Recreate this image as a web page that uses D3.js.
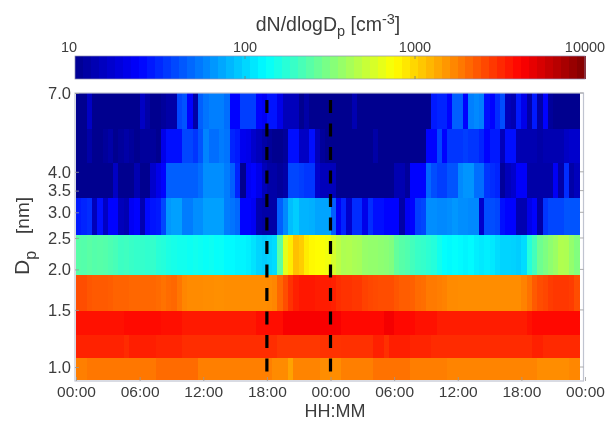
<!DOCTYPE html>
<html>
<head>
<meta charset="utf-8">
<script src="https://cdn.jsdelivr.net/npm/d3@7"></script>
<style>
html,body{margin:0;padding:0;background:#fff;overflow:hidden}
svg{display:block;filter:blur(0.75px)}
text{font-family:"Liberation Sans",Arial,sans-serif;fill:#3c3c3c}
</style>
</head>
<body>
<script>
const tickHours = [0,6,12,18,24,30,36,42,48];
const tickHourLabels = ["00:00","06:00","12:00","18:00","00:00","06:00","12:00","18:00","00:00"];
const dpTicks = [1,1.5,2,2.5,3,3.5,4,7];
const colorTicks = [10,100,1000,10000];
const eventHours = [18,24];
const binHours = 0.5;
const dpEdges = [7,5.42,4.26,3.32,2.56,1.92,1.49,1.255,1.066,0.912];

const row1 = [10,10,15,10,10,10,10,10,10,10,10,10,
15,12,10,10,11,12,12,38,42,24,12,45,
52,56,56,56,50,24,24,36,36,36,24,22,
27,27,20,14,14,14,10,12,10,10,10,10,
10,10,10,10,13,10,10,10,10,10,10,10,
10,10,10,10,10,10,10,28,30,30,24,45,
45,24,56,60,56,26,24,32,40,14,13,28,
20,12,28,12,24,11,10,10,10,10,10];
const row2 = [10,10,12,10,10,11,12,10,11,12,11,10,
11,11,11,10,20,26,26,26,38,38,34,42,
58,50,50,55,52,30,28,21,20,16,14,12,
11,10,10,11,26,26,15,15,26,14,11,10,
10,10,10,10,10,10,10,10,12,10,10,10,
10,10,10,10,10,10,24,24,38,24,34,34,
34,36,34,34,30,24,28,28,14,26,26,13,
13,13,13,12,13,13,13,13,15,16,16];
const row3 = [10,10,10,10,10,10,10,15,10,10,10,13,
10,10,16,20,24,45,45,45,45,45,45,50,
62,62,62,62,55,45,30,10,22,24,20,14,
12,12,11,12,38,38,36,34,34,16,14,14,
14,10,10,10,10,10,10,10,10,10,10,10,
13,13,11,24,24,24,48,40,36,36,42,42,
60,65,65,50,50,34,32,30,11,14,16,23,
23,12,12,12,12,12,22,12,32,12,14];
const row4 = [28,30,32,14,26,15,24,24,14,13,22,24,
13,25,27,28,38,66,70,70,55,55,62,62,
70,70,70,70,55,52,48,24,24,22,13,12,
12,12,45,60,85,95,80,80,78,72,72,72,
45,22,30,16,32,32,20,32,26,26,24,24,
24,12,22,24,36,38,62,62,60,60,62,66,
62,62,60,60,16,40,40,38,26,24,24,13,
13,20,24,12,34,38,38,38,42,42,42];
const row5 = [240,235,245,235,240,235,225,215,200,205,195,190,
190,185,190,175,170,160,155,150,150,145,150,145,
140,145,138,140,130,130,125,125,120,110,100,95,
100,105,250,620,850,1150,1050,850,780,760,720,680,
560,480,430,440,420,410,370,360,360,350,340,320,
260,240,230,210,195,190,180,170,150,135,130,135,
130,125,130,120,115,120,115,105,100,100,98,95,
105,170,210,280,310,350,380,440,430,360,320];
const row6 = [2500,2500,2350,2300,2300,2300,2250,2150,2150,2150,2100,2100,
2100,2100,2100,2050,1950,2050,2100,1900,1700,1650,1650,1650,
1620,1620,1600,1600,1620,1620,1620,1620,1620,1620,1620,1620,
1650,1700,2100,2500,3000,3400,3600,3600,3600,3500,3500,3500,
3400,3100,3000,3000,2900,2900,2700,2600,2550,2500,2500,2500,
2350,2250,2250,2200,2050,2000,1850,1850,1800,1750,1650,1650,
1620,1620,1620,1620,1620,1620,1620,1620,1620,1620,1620,1620,
1750,1950,2300,2500,2600,2800,2900,2900,2900,2800,2500];
const row7 = [3750,3750,3750,3750,3750,3750,3750,3750,3750,3950,3950,3950,
3950,3950,3950,3950,3800,3800,3800,3800,3550,3550,3550,3550,
3550,3550,3550,3550,3550,3550,3550,3550,3550,3550,3850,3850,
3850,3850,3850,4400,4400,4400,4400,4400,4400,4400,4400,4400,
4450,4400,4000,4000,4000,4000,4000,4000,4000,4000,4500,4500,
4000,4000,4000,4000,3750,3750,3750,3750,3500,3500,3500,3500,
3500,3500,3500,3500,3500,3500,3500,3500,3500,3500,3500,3500,
3500,3750,4000,4000,4000,4000,4000,4000,4000,4000,4000];
const row8 = [3350,3350,3350,3350,3350,3350,3350,3350,3350,3150,3450,3450,
3450,3450,3450,3300,3300,3300,3300,3300,3100,3100,3100,3100,
3100,3100,3100,3100,3100,3100,3100,3100,3100,3100,3100,3100,
3100,3100,2900,2900,2900,2900,2900,2900,2900,2900,3000,3000,
3000,3000,3050,3050,3050,3050,3050,3050,3400,3400,3050,3450,
3450,3450,3450,3300,3300,3300,3300,3150,3150,3150,3150,3150,
3150,3150,3150,3150,3150,3150,3150,3150,3150,3150,3150,3150,
3150,3150,3400,3400,3200,3200,3200,3200,3200,3200,3200];
const row9 = [1780,1780,1880,1880,1880,1880,1880,1880,1880,1880,1880,1880,
1880,1880,1880,2050,2050,2050,2050,2050,2050,2050,2050,1780,
1780,1780,1780,1780,1780,1780,1780,1780,1780,1780,1780,1780,
1780,1650,1650,1650,1400,1720,1720,1720,1720,1720,1620,1620,
1620,1620,1780,1780,1780,1780,1780,1780,1950,1950,1950,1950,
1950,1950,1950,1800,1800,1800,1800,1800,1800,1800,1720,1720,
1720,1720,1720,1720,1720,1720,1720,1720,1720,1720,1720,1720,
1720,1720,1720,1620,1620,1620,1620,1620,1620,1690,1690];
const rows = [row1,row2,row3,row4,row5,row6,row7,row8,row9];

const W = 607, H = 421;
const svg = d3.select("body").append("svg").attr("width",W).attr("height",H);

const x = d3.scaleLinear().domain([0,48]).range([76,585]);
const y = d3.scaleLog().domain([1,7]).range([367,93]);
const cbar = d3.scaleLog().domain([10,10000]).range([75,585]);
const frac = d3.scaleLog().domain([10,10000]).range([0,1]).clamp(true);
const jet = d3.scaleLinear()
  .domain([0,0.125,0.375,0.625,0.875,1])
  .range(["#00008f","#0000ff","#00ffff","#ffff00","#ff0000","#800000"])
  .interpolate(d3.interpolateRgb);
const colorOf = v => jet(frac(v));

// colour bar
const cbTop = 56, cbBottom = 79;
const steps = d3.range(64);
const logStep = 3/64;
svg.append("g").attr("shape-rendering","crispEdges").selectAll("rect").data(steps).join("rect")
  .attr("x",i=>cbar(10*Math.pow(10,i*logStep)))
  .attr("width",i=>cbar(10*Math.pow(10,(i+1)*logStep))-cbar(10*Math.pow(10,i*logStep))+0.6)
  .attr("y",cbTop).attr("height",cbBottom-cbTop)
  .attr("fill",i=>jet((i+0.5)/64));
svg.append("rect").attr("x",75).attr("y",cbTop).attr("width",510).attr("height",cbBottom-cbTop)
  .attr("fill","none").attr("stroke","#8f8fb5").attr("stroke-width",0.7);
svg.append("g").selectAll("line").data(colorTicks.slice(1,3).flatMap(t=>[[t,cbTop,cbTop+3],[t,cbBottom-3,cbBottom]])).join("line")
  .attr("x1",d=>cbar(d[0])).attr("x2",d=>cbar(d[0])).attr("y1",d=>d[1]).attr("y2",d=>d[2])
  .attr("stroke","#777").attr("stroke-width",0.8);
svg.append("g").selectAll("text").data(colorTicks).join("text")
  .attr("x",d=>cbar(d)-(d===10?6:0)).attr("y",52).attr("text-anchor","middle")
  .attr("font-size",14.5).text(d=>d);

const title = svg.append("text").attr("x",328).attr("y",31).attr("text-anchor","middle").attr("font-size",19.5);
title.append("tspan").text("dN/dlogD");
title.append("tspan").attr("font-size",14.5).attr("dy",5).text("p");
title.append("tspan").attr("dy",-5).text(" [cm");
title.append("tspan").attr("font-size",14.5).attr("dy",-7).text("-3");
title.append("tspan").attr("dy",7).text("]");

// heat map
const binW = x(binHours)-x(0);
svg.append("g").attr("shape-rendering","crispEdges").selectAll("g").data(rows).join("g")
  .each(function(vals,r){
    d3.select(this).selectAll("rect").data(vals).join("rect")
      .attr("x",(d,i)=>x(i*binHours))
      .attr("width",binW+0.6)
      .attr("y",y(dpEdges[r]))
      .attr("height",y(dpEdges[r+1])-y(dpEdges[r]))
      .attr("fill",d=>colorOf(d));
  });

// frame
svg.append("rect").attr("x",75).attr("y",93).attr("width",508.5).attr("height",288)
  .attr("fill","none").attr("stroke","#c0c4d0").attr("stroke-width",1.2);

// axes
const xAxis = d3.axisBottom(x).tickValues(tickHours).tickSize(-4).tickPadding(5)
  .tickFormat((d,i)=>tickHourLabels[i]);
const gx = svg.append("g").attr("transform","translate(0,381)").call(xAxis);
const yAxis = d3.axisLeft(y).tickValues(dpTicks).tickSize(-4).tickPadding(4)
  .tickFormat(d=>d.toFixed(1));
const gy = svg.append("g").attr("transform","translate(75,0)").call(yAxis);
[gx,gy].forEach(g=>{
  g.select(".domain").remove();
  g.selectAll("line").attr("stroke","#999").attr("stroke-width",0.8);
  g.selectAll("text").attr("font-family",'"Liberation Sans",Arial,sans-serif').attr("fill","#3c3c3c");
});
gx.selectAll("text").attr("font-size",15.5);
gy.selectAll("text").attr("font-size",16.5);

// right-side tick marks
svg.append("g").selectAll("line").data(dpTicks).join("line")
  .attr("x1",580).attr("x2",583.5).attr("y1",d=>y(d)).attr("y2",d=>y(d))
  .attr("stroke","#999").attr("stroke-width",0.8);

// event lines
svg.append("g").selectAll("line").data(eventHours).join("line")
  .attr("x1",d=>x(d)).attr("x2",d=>x(d)).attr("y1",100).attr("y2",375)
  .attr("stroke","#000").attr("stroke-width",3.2).attr("stroke-dasharray","13 10.5");

// axis titles
svg.append("text").attr("x",335).attr("y",417).attr("text-anchor","middle").attr("font-size",18).text("HH:MM");
const yl = svg.append("text").attr("transform","translate(29,236) rotate(-90)").attr("text-anchor","middle").attr("font-size",21);
yl.append("tspan").text("D");
yl.append("tspan").attr("font-size",16).attr("dy",7).text("p");
yl.append("tspan").attr("dy",-7).attr("dx",17).attr("font-size",19).text("[nm]");
</script>
</body>
</html>
